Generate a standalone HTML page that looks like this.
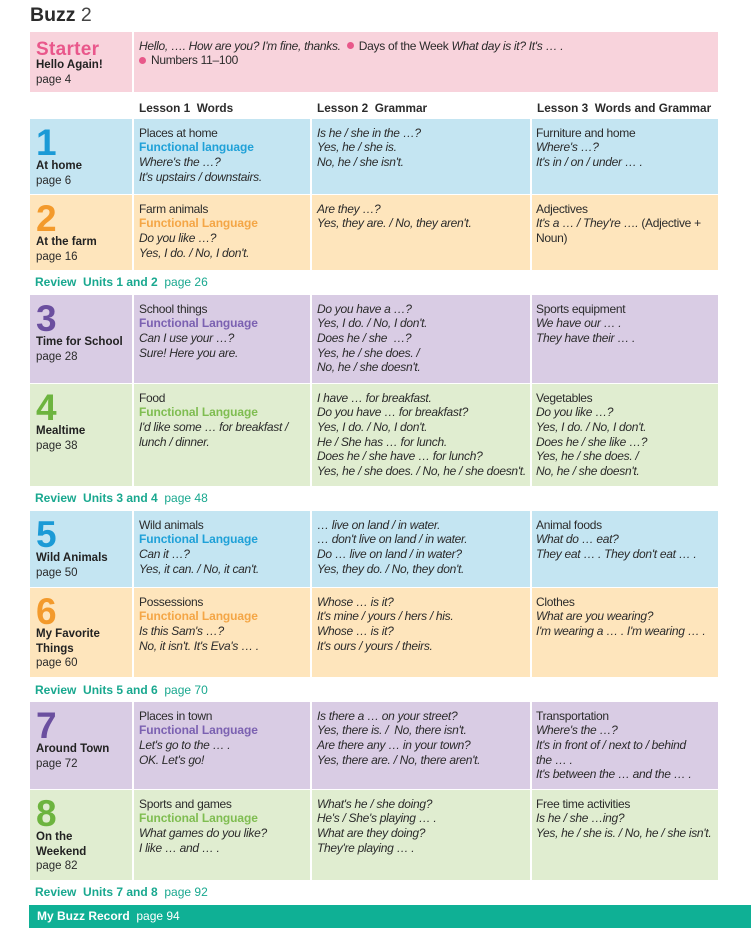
<!DOCTYPE html>
<html><head><meta charset="utf-8"><style>
*{margin:0;padding:0;box-sizing:border-box}
body{width:751px;height:947px;background:#fff;position:relative;overflow:hidden;font-family:"Liberation Sans",sans-serif;color:#2b2b2b}
.a{position:absolute;white-space:nowrap}
.row{position:absolute;left:30px;width:688px}
.vl{position:absolute;top:0;bottom:0;width:2px;background:#fff}
.t{position:absolute;font-size:12px;line-height:14.67px;letter-spacing:-0.3px;white-space:nowrap}
.t i{font-style:italic}
.fl{font-weight:bold;letter-spacing:-0.1px}
.num{position:absolute;left:6px;font-size:37px;line-height:37px;font-weight:bold}
.lab{position:absolute;left:6px;font-size:11.5px;line-height:14.5px;white-space:nowrap}
.lab b{font-weight:bold;color:#222}
.rev{position:absolute;left:35px;font-size:12px;line-height:15px;color:#19a88f;white-space:nowrap}
.rev b{font-weight:bold}
.dot{display:inline-block;width:7px;height:7px;border-radius:50%;background:#e8588a;margin:0 5px 1px 0;vertical-align:middle}
.blue{background:#c4e5f2}.org{background:#fee5bc}.pur{background:#d9cce4}.grn{background:#e0edd0}
.cb{color:#1b9ad6}.co{color:#f39a2c}.cp{color:#6b4f9f}.cg{color:#6db43f}
.fb{color:#1fa1d8}.fo{color:#f4a646}.fp{color:#7b61b1}.fg{color:#7fbd51}
</style></head><body>

<div class="a" style="left:30px;top:3px;font-size:19.5px;line-height:24px;"><b>Buzz</b> <span style="color:#444">2</span></div>

<!-- Starter -->
<div class="row" style="top:32px;height:60px;background:#f8d3dc">
  <div class="vl" style="left:102px"></div>
  <div class="a" style="left:6px;top:7px;font-size:19px;line-height:22px;font-weight:bold;color:#e9578b;letter-spacing:0.3px">Starter</div>
  <div class="lab" style="top:26px"><b>Hello Again!</b><br>page 4</div>
  <div class="t" style="left:109px;top:6.5px"><i>Hello, …. How are you? I'm fine, thanks.</i> <span class="dot" style="margin-left:3px"></span>Days of the Week <i>What day is it? It's … .</i><br><span class="dot"></span>Numbers 11–100</div>
</div>

<!-- header -->
<div class="a" style="left:139px;top:100.5px;font-size:11.8px;line-height:15px;font-weight:bold">Lesson 1&nbsp; Words</div>
<div class="a" style="left:317px;top:100.5px;font-size:11.8px;line-height:15px;font-weight:bold">Lesson 2&nbsp; Grammar</div>
<div class="a" style="left:537px;top:100.5px;font-size:11.8px;line-height:15px;font-weight:bold">Lesson 3&nbsp; Words and Grammar</div>

<!-- Row 1 -->
<div class="row blue" style="top:119px;height:75px">
  <div class="vl" style="left:102px"></div><div class="vl" style="left:280px"></div><div class="vl" style="left:500px"></div>
  <div class="num cb" style="top:5px">1</div>
  <div class="lab" style="top:40px"><b>At home</b><br>page 6</div>
  <div class="t" style="left:109px;top:6.5px">Places at home<br><span class="fl fb">Functional language</span><br><i>Where's the …?</i><br><i>It's upstairs / downstairs.</i></div>
  <div class="t" style="left:287px;top:6.5px"><i>Is he / she in the …?</i><br><i>Yes, he / she is.</i><br><i>No, he / she isn't.</i></div>
  <div class="t" style="left:506px;top:6.5px">Furniture and home<br><i>Where's …?</i><br><i>It's in / on / under … .</i></div>
</div>

<!-- Row 2 -->
<div class="row org" style="top:195px;height:75px">
  <div class="vl" style="left:102px"></div><div class="vl" style="left:280px"></div><div class="vl" style="left:500px"></div>
  <div class="num co" style="top:5px">2</div>
  <div class="lab" style="top:40px"><b>At the farm</b><br>page 16</div>
  <div class="t" style="left:109px;top:6.5px">Farm animals<br><span class="fl fo">Functional Language</span><br><i>Do you like …?</i><br><i>Yes, I do. / No, I don't.</i></div>
  <div class="t" style="left:287px;top:6.5px"><i>Are they …?</i><br><i>Yes, they are. / No, they aren't.</i></div>
  <div class="t" style="left:506px;top:6.5px">Adjectives<br><i>It's a … / They're ….</i> (Adjective +<br>Noun)</div>
</div>

<div class="rev" style="top:274.5px"><b>Review&nbsp; Units 1 and 2</b>&nbsp; page 26</div>

<!-- Row 3 -->
<div class="row pur" style="top:295px;height:88px">
  <div class="vl" style="left:102px"></div><div class="vl" style="left:280px"></div><div class="vl" style="left:500px"></div>
  <div class="num cp" style="top:5px">3</div>
  <div class="lab" style="top:40px"><b>Time for School</b><br>page 28</div>
  <div class="t" style="left:109px;top:6.5px">School things<br><span class="fl fp">Functional Language</span><br><i>Can I use your …?</i><br><i>Sure! Here you are.</i></div>
  <div class="t" style="left:287px;top:6.5px"><i>Do you have a …?</i><br><i>Yes, I do. / No, I don't.</i><br><i>Does he / she&nbsp; …?</i><br><i>Yes, he / she does. /</i><br><i>No, he / she doesn't.</i></div>
  <div class="t" style="left:506px;top:6.5px">Sports equipment<br><i>We have our … .</i><br><i>They have their … .</i></div>
</div>

<!-- Row 4 -->
<div class="row grn" style="top:384px;height:102px">
  <div class="vl" style="left:102px"></div><div class="vl" style="left:280px"></div><div class="vl" style="left:500px"></div>
  <div class="num cg" style="top:5px">4</div>
  <div class="lab" style="top:40px"><b>Mealtime</b><br>page 38</div>
  <div class="t" style="left:109px;top:6.5px">Food<br><span class="fl fg">Functional Language</span><br><i>I'd like some … for breakfast /</i><br><i>lunch / dinner.</i></div>
  <div class="t" style="left:287px;top:6.5px"><i>I have … for breakfast.</i><br><i>Do you have … for breakfast?</i><br><i>Yes, I do. / No, I don't.</i><br><i>He / She has … for lunch.</i><br><i>Does he / she have … for lunch?</i><br><i>Yes, he / she does. / No, he / she doesn't.</i></div>
  <div class="t" style="left:506px;top:6.5px">Vegetables<br><i>Do you like …?</i><br><i>Yes, I do. / No, I don't.</i><br><i>Does he / she like …?</i><br><i>Yes, he / she does. /</i><br><i>No, he / she doesn't.</i></div>
</div>

<div class="rev" style="top:490.5px"><b>Review&nbsp; Units 3 and 4</b>&nbsp; page 48</div>

<!-- Row 5 -->
<div class="row blue" style="top:511px;height:76px">
  <div class="vl" style="left:102px"></div><div class="vl" style="left:280px"></div><div class="vl" style="left:500px"></div>
  <div class="num cb" style="top:5px">5</div>
  <div class="lab" style="top:40px"><b>Wild Animals</b><br>page 50</div>
  <div class="t" style="left:109px;top:6.5px">Wild animals<br><span class="fl fb">Functional Language</span><br><i>Can it …?</i><br><i>Yes, it can. / No, it can't.</i></div>
  <div class="t" style="left:287px;top:6.5px"><i>… live on land / in water.</i><br><i>… don't live on land / in water.</i><br><i>Do … live on land / in water?</i><br><i>Yes, they do. / No, they don't.</i></div>
  <div class="t" style="left:506px;top:6.5px">Animal foods<br><i>What do … eat?</i><br><i>They eat … . They don't eat … .</i></div>
</div>

<!-- Row 6 -->
<div class="row org" style="top:588px;height:89px">
  <div class="vl" style="left:102px"></div><div class="vl" style="left:280px"></div><div class="vl" style="left:500px"></div>
  <div class="num co" style="top:5px">6</div>
  <div class="lab" style="top:39px"><b>My Favorite<br>Things</b><br>page 60</div>
  <div class="t" style="left:109px;top:6.5px">Possessions<br><span class="fl fo">Functional Language</span><br><i>Is this Sam's …?</i><br><i>No, it isn't. It's Eva's … .</i></div>
  <div class="t" style="left:287px;top:6.5px"><i>Whose … is it?</i><br><i>It's mine / yours / hers / his.</i><br><i>Whose … is it?</i><br><i>It's ours / yours / theirs.</i></div>
  <div class="t" style="left:506px;top:6.5px">Clothes<br><i>What are you wearing?</i><br><i>I'm wearing a … . I'm wearing … .</i></div>
</div>

<div class="rev" style="top:682.5px"><b>Review&nbsp; Units 5 and 6</b>&nbsp; page 70</div>

<!-- Row 7 -->
<div class="row pur" style="top:702px;height:87px">
  <div class="vl" style="left:102px"></div><div class="vl" style="left:280px"></div><div class="vl" style="left:500px"></div>
  <div class="num cp" style="top:5px">7</div>
  <div class="lab" style="top:40px"><b>Around Town</b><br>page 72</div>
  <div class="t" style="left:109px;top:6.5px">Places in town<br><span class="fl fp">Functional Language</span><br><i>Let's go to the … .</i><br><i>OK. Let's go!</i></div>
  <div class="t" style="left:287px;top:6.5px"><i>Is there a … on your street?</i><br><i>Yes, there is. /&nbsp; No, there isn't.</i><br><i>Are there any … in your town?</i><br><i>Yes, there are. / No, there aren't.</i></div>
  <div class="t" style="left:506px;top:6.5px">Transportation<br><i>Where's the …?</i><br><i>It's in front of / next to / behind</i><br><i>the … .</i><br><i>It's between the … and the … .</i></div>
</div>

<!-- Row 8 -->
<div class="row grn" style="top:790px;height:90px">
  <div class="vl" style="left:102px"></div><div class="vl" style="left:280px"></div><div class="vl" style="left:500px"></div>
  <div class="num cg" style="top:5px">8</div>
  <div class="lab" style="top:40px"><b>On the<br>Weekend</b><br>page 82</div>
  <div class="t" style="left:109px;top:6.5px">Sports and games<br><span class="fl fg">Functional Language</span><br><i>What games do you like?</i><br><i>I like … and … .</i></div>
  <div class="t" style="left:287px;top:6.5px"><i>What's he / she doing?</i><br><i>He's / She's playing … .</i><br><i>What are they doing?</i><br><i>They're playing … .</i></div>
  <div class="t" style="left:506px;top:6.5px">Free time activities<br><i>Is he / she …ing?</i><br><i>Yes, he / she is. / No, he / she isn't.</i></div>
</div>

<div class="rev" style="top:884.5px"><b>Review&nbsp; Units 7 and 8</b>&nbsp; page 92</div>

<div class="a" style="left:29px;top:905px;width:722px;height:23px;background:#0fb095"></div>
<div class="a" style="left:37px;top:908.5px;font-size:12px;line-height:15px;color:#fff"><b>My Buzz Record</b>&nbsp; page 94</div>

</body></html>
